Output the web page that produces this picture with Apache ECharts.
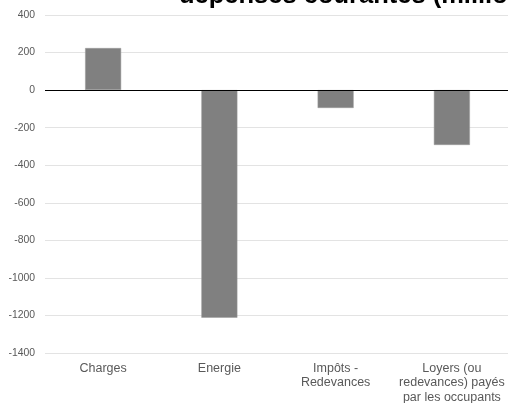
<!DOCTYPE html>
<html><head><meta charset="utf-8">
<script src="https://cdn.jsdelivr.net/npm/echarts@6/dist/echarts.min.js"></script>
<style>html,body{margin:0;padding:0;background:#fff}#c{width:508px;height:403px}</style>
</head><body><div id="c"></div>
<script>
const categories = ["Charges", "Energie", "Impôts -\nRedevances", "Loyers (ou\nredevances) payés\npar les occupants"];
const values = [224, -1212, -95, -292];
const yTicks = {min: -1400, max: 400, interval: 200};
const titleText = "dépenses courantes (millions d'euros)";

const chart = echarts.init(document.getElementById('c'), null, {renderer: 'canvas'});
chart.setOption({
  animation: false,
  backgroundColor: '#fff',
  textStyle: {fontFamily: 'Liberation Sans, Arial, sans-serif'},
  graphic: [{
    type: 'text', left: 179, top: -17,
    style: {text: titleText, font: 'bold 25.5px "Liberation Sans", Arial, sans-serif', fill: '#000'}
  }],
  grid: {left: 45, right: -2, top: 15, bottom: 50, containLabel: false, outerBoundsMode: 'none'},
  xAxis: {
    type: 'category', data: categories,
    axisLine: {show: false, onZero: false},
    axisTick: {show: false},
    axisLabel: {color: '#595959', fontSize: 12.5, lineHeight: 14.5, margin: 8, interval: 0}
  },
  yAxis: {
    type: 'value', min: yTicks.min, max: yTicks.max, interval: yTicks.interval,
    axisLine: {show: false}, axisTick: {show: false},
    axisLabel: {color: '#595959', fontSize: 10.4, margin: 10, formatter: v => String(v)},
    splitLine: {lineStyle: {color: '#e3e3e3', width: 1}}
  },
  series: [{
    type: 'bar', data: values, barWidth: 36,
    itemStyle: {color: '#808080', borderColor: '#9a9a9a', borderWidth: 0.5},
    markLine: {
      silent: true, symbol: 'none', label: {show: false},
      lineStyle: {color: '#000', type: 'solid', width: 1.2},
      data: [{yAxis: 0}]
    }
  }]
});
</script></body></html>
